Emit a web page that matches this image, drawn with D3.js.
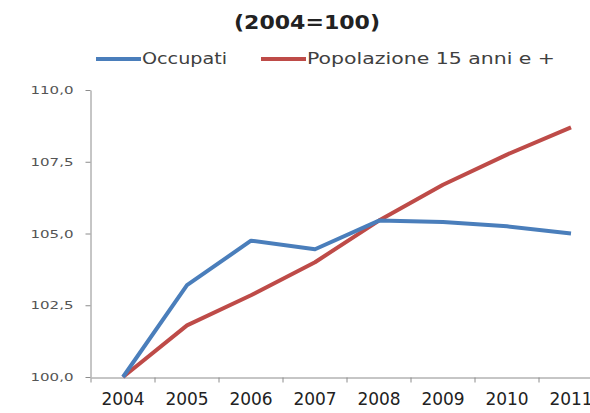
<!DOCTYPE html>
<html>
<head>
<meta charset="utf-8">
<script src="https://cdn.jsdelivr.net/npm/d3@7"></script>
<style>
  body { margin: 0; background: #fff; }
  svg { display: block; font-family: 'DejaVu Sans', sans-serif; }
</style>
</head>
<body>
<div class="chart"></div>
<script>
// data
const years = ['2004', '2005', '2006', '2007', '2008', '2009', '2010', '2011'];
const occupati = [100, 103.2, 104.75, 104.45, 105.45, 105.4, 105.25, 105.0];
const popolazione = [100, 101.8, 102.85, 104.0, 105.45, 106.7, 107.75, 108.7];
const yTicks = [100, 102.5, 105, 107.5, 110];
const seriesNames = ['Occupati', 'Popolazione 15 anni e +'];

const w = 590;
const h = 413;
const blue = '#4a7ebb';
const red = '#be4b48';
const axisGrey = '#8c8c8c';
const textGrey = '#404040';

const svg = d3.select('.chart').append('svg').attr('width', w).attr('height', h);

// Scales
const xScale = d3.scaleBand().domain(years).range([91, 91 + 64 * years.length]);
const yScale = d3.scaleLinear().domain([100, 110]).range([377, 90]);
const xc = (d) => xScale(d) + xScale.bandwidth() / 2;

// Title (the source picture is stretched sideways, so texts get a fixed length)
svg.append('text')
  .attr('x', 234)
  .attr('y', 29)
  .attr('textLength', 146)
  .attr('lengthAdjust', 'spacingAndGlyphs')
  .style('font-size', '20px')
  .style('font-weight', 'bold')
  .style('fill', '#222')
  .text('(2004=100)');

// Legend
const legendItems = [
  { name: seriesNames[0], color: blue, x: 96, len: 85 },
  { name: seriesNames[1], color: red, x: 261, len: 248 },
];
const legend = svg.append('g').attr('class', 'legend');
legendItems.forEach((it) => {
  legend.append('line')
    .attr('x1', it.x).attr('x2', it.x + 45)
    .attr('y1', 59).attr('y2', 59)
    .attr('stroke', it.color).attr('stroke-width', 4);
  legend.append('text')
    .attr('x', it.x + 46)
    .attr('y', 64)
    .attr('textLength', it.len)
    .attr('lengthAdjust', 'spacingAndGlyphs')
    .style('font-size', '15px')
    .style('fill', textGrey)
    .text(it.name);
});

// Y axis
const yAxis = d3.axisLeft(yScale)
  .tickValues(yTicks)
  .tickFormat((d) => d3.format('.1f')(d).replace('.', ','))
  .tickSizeInner(5)
  .tickSizeOuter(0)
  .tickPadding(12);

const yAxisG = svg.append('g')
  .attr('transform', 'translate(90.5,0)')
  .call(yAxis);
yAxisG.select('.domain').attr('stroke', axisGrey);
yAxisG.selectAll('.tick line').attr('stroke', axisGrey);
yAxisG.selectAll('.tick text')
  .attr('textLength', 43)
  .attr('lengthAdjust', 'spacingAndGlyphs')
  .style('font-size', '11px')
  .style('font-family', "'DejaVu Sans', sans-serif")
  .style('fill', '#555');

// X axis: labels in the middle of each category, ticks between them
const xAxis = d3.axisBottom(xScale).tickSize(0).tickPadding(15);
const xAxisG = svg.append('g')
  .attr('transform', 'translate(0,377.5)')
  .call(xAxis);
xAxisG.select('.domain').attr('stroke', axisGrey);
xAxisG.selectAll('.tick text')
  .style('font-size', '17px')
  .style('font-family', "'DejaVu Sans', sans-serif")
  .style('fill', '#222');

const bounds = years.map((d) => xScale(d)).concat([xScale(years[years.length - 1]) + xScale.step()]);
xAxisG.selectAll('.bound')
  .data(bounds)
  .enter()
  .append('line')
  .attr('class', 'bound')
  .attr('x1', (d) => d).attr('x2', (d) => d)
  .attr('y1', 0).attr('y2', 5)
  .attr('stroke', axisGrey);

// Lines
const line = d3.line()
  .x((d, i) => xc(years[i]))
  .y((d) => yScale(d));

svg.append('path')
  .datum(popolazione)
  .attr('d', line)
  .attr('fill', 'none')
  .attr('stroke', red)
  .attr('stroke-width', 4)
  .attr('stroke-linejoin', 'round');

svg.append('path')
  .datum(occupati)
  .attr('d', line)
  .attr('fill', 'none')
  .attr('stroke', blue)
  .attr('stroke-width', 4)
  .attr('stroke-linejoin', 'round');
</script>
</body>
</html>
